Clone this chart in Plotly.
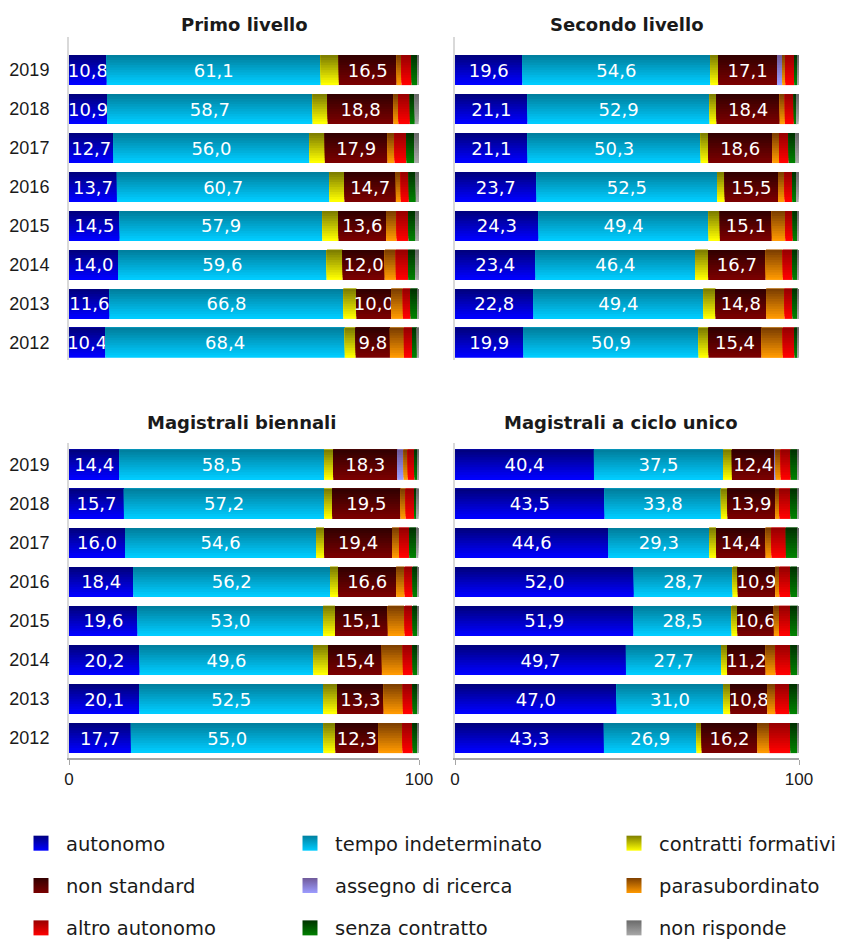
import plotly.graph_objects as go

years = ["2019", "2018", "2017", "2016", "2015", "2014", "2013", "2012"]
series_names = ["autonomo", "tempo indeterminato", "contratti formativi", "non standard",
                "assegno di ricerca", "parasubordinato", "altro autonomo",
                "senza contratto", "non risponde"]
panel_titles = ["Primo livello", "Secondo livello", "Magistrali biennali",
                "Magistrali a ciclo unico"]
x_ticks = [0, 100]

# Primo livello
primo_autonomo = [10.8, 10.9, 12.7, 13.7, 14.5, 14.0, 11.6, 10.4]
primo_tempo = [61.1, 58.7, 56.0, 60.7, 57.9, 59.6, 66.8, 68.4]
primo_formativi = [5.2, 4.3, 4.4, 4.3, 4.6, 4.6, 3.7, 3.1]
primo_nonstd = [16.5, 18.8, 17.9, 14.7, 13.6, 12.0, 10.0, 9.8]
primo_assegno = [0, 0, 0, 0, 0, 0, 0, 0]
primo_parasub = [1.4, 1.4, 2.0, 1.4, 3.0, 3.2, 3.3, 4.0]
primo_altro = [2.9, 3.3, 3.4, 2.3, 3.4, 3.5, 2.2, 2.3]
primo_senza = [1.6, 1.4, 2.3, 2.0, 2.0, 2.0, 2.0, 1.4]
primo_nr = [0.5, 1.1, 1.3, 0.9, 1.0, 1.1, 0.4, 0.6]

# Secondo livello
secondo_autonomo = [19.6, 21.1, 21.1, 23.7, 24.3, 23.4, 22.8, 19.9]
secondo_tempo = [54.6, 52.9, 50.3, 52.5, 49.4, 46.4, 49.4, 50.9]
secondo_formativi = [2.3, 2.0, 2.2, 2.2, 3.3, 3.8, 3.5, 2.9]
secondo_nonstd = [17.1, 18.4, 18.6, 15.5, 15.1, 16.7, 14.8, 15.4]
secondo_assegno = [1.5, 0, 0, 0, 0, 0, 0, 0]
secondo_parasub = [0.9, 1.5, 2.0, 1.9, 3.9, 5.0, 5.3, 6.2]
secondo_altro = [2.6, 2.6, 2.8, 2.2, 2.2, 2.8, 2.3, 3.4]
secondo_senza = [0.9, 0.9, 2.0, 1.4, 1.3, 1.5, 1.5, 0.9]
secondo_nr = [0.5, 0.5, 1.0, 0.5, 0.4, 0.4, 0.4, 0.4]

# Magistrali biennali
biennali_autonomo = [14.4, 15.7, 16.0, 18.4, 19.6, 20.2, 20.1, 17.7]
biennali_tempo = [58.5, 57.2, 54.6, 56.2, 53.0, 49.6, 52.5, 55.0]
biennali_formativi = [2.6, 2.3, 2.3, 2.3, 3.4, 4.2, 4.0, 3.4]
biennali_nonstd = [18.3, 19.5, 19.4, 16.6, 15.1, 15.4, 13.3, 12.3]
biennali_assegno = [1.8, 0, 0, 0, 0, 0, 0, 0]
biennali_parasub = [1.2, 1.5, 2.0, 2.4, 4.8, 6.0, 5.5, 6.9]
biennali_altro = [1.9, 2.4, 2.9, 2.3, 2.3, 2.8, 2.8, 2.9]
biennali_senza = [0.8, 0.8, 2.0, 1.4, 1.4, 1.4, 1.4, 1.4]
biennali_nr = [0.5, 0.5, 0.6, 0.4, 0.4, 0.4, 0.4, 0.4]

# Magistrali a ciclo unico
ciclo_autonomo = [40.4, 43.5, 44.6, 52.0, 51.9, 49.7, 47.0, 43.3]
ciclo_tempo = [37.5, 33.8, 29.3, 28.7, 28.5, 27.7, 31.0, 26.9]
ciclo_formativi = [2.6, 1.9, 2.0, 1.5, 1.7, 1.7, 2.0, 1.5]
ciclo_nonstd = [12.4, 13.9, 14.4, 10.9, 10.6, 11.2, 10.8, 16.2]
ciclo_assegno = [0.3, 0, 0, 0, 0, 0, 0, 0]
ciclo_parasub = [1.5, 1.2, 1.7, 1.2, 1.5, 2.9, 2.3, 3.5]
ciclo_altro = [2.9, 3.2, 4.2, 3.2, 3.2, 4.4, 4.1, 6.1]
ciclo_senza = [2.0, 2.0, 3.4, 2.0, 2.3, 2.0, 2.3, 2.0]
ciclo_nr = [0.4, 0.5, 0.4, 0.4, 0.3, 0.4, 0.4, 0.4]

panels = [
    [primo_autonomo, primo_tempo, primo_formativi, primo_nonstd, primo_assegno,
     primo_parasub, primo_altro, primo_senza, primo_nr],
    [secondo_autonomo, secondo_tempo, secondo_formativi, secondo_nonstd, secondo_assegno,
     secondo_parasub, secondo_altro, secondo_senza, secondo_nr],
    [biennali_autonomo, biennali_tempo, biennali_formativi, biennali_nonstd, biennali_assegno,
     biennali_parasub, biennali_altro, biennali_senza, biennali_nr],
    [ciclo_autonomo, ciclo_tempo, ciclo_formativi, ciclo_nonstd, ciclo_assegno,
     ciclo_parasub, ciclo_altro, ciclo_senza, ciclo_nr],
]

# gradient colours (top, bottom) per series
grad = [
    ("#000080", "#0000FF"),
    ("#00809F", "#00CCFF"),
    ("#7F7F00", "#FFFF00"),
    ("#330000", "#7A0000"),
    ("#705A9A", "#9C9CFF"),
    ("#7F4000", "#FF9900"),
    ("#990000", "#FF0000"),
    ("#003300", "#008000"),
    ("#6A6A6A", "#A8A8A8"),
]
legend_of = ["legend", "legend2", "legend3", "legend",
             "legend2", "legend3", "legend", "legend2", "legend3"]
labelled = [0, 1, 3]


def hex2rgb(h):
    h = h.lstrip("#")
    return tuple(int(h[i:i + 2], 16) for i in (0, 2, 4))


def lerp(c1, c2, t):
    a, b = hex2rgb(c1), hex2rgb(c2)
    return "rgb(%d,%d,%d)" % tuple(round(a[k] + (b[k] - a[k]) * t) for k in range(3))


def fmt(v):
    return ("%.1f" % v).replace(".", ",")


W = 0.77
N = 12
fig = go.Figure()

for p, data in enumerate(panels):
    suffix = "" if p == 0 else str(p + 1)
    xa, ya = "x" + suffix, "y" + suffix
    cum = [0.0] * len(years)
    for s, vals in enumerate(data):
        top, bot = grad[s]
        for i in range(N):
            t = i / (N - 1)  # 0 = bottom, 1 = top
            # each layer covers from its own start up to the top of the bar,
            # so upper (darker) layers overlay lower ones without seams
            fig.add_trace(go.Bar(
                y=years, x=vals, base=list(cum), orientation="h",
                width=W - i * W / N, offset=-W / 2 + i * W / N,
                marker=dict(color=lerp(bot, top, t), line=dict(width=0)),
                name=series_names[s], legendgroup=series_names[s],
                showlegend=False, hoverinfo="skip",
                xaxis=xa, yaxis=ya,
            ))
        if s in labelled:
            fig.add_trace(go.Bar(
                y=years, x=vals, base=list(cum), orientation="h",
                width=W, offset=-W / 2,
                marker=dict(color="rgba(0,0,0,0)", line=dict(width=0)),
                text=[fmt(v) for v in vals], textposition="inside",
                insidetextanchor="middle", textangle=0, constraintext="none",
                textfont=dict(family="DejaVu Sans", size=18, color="white"),
                showlegend=False, hoverinfo="skip", xaxis=xa, yaxis=ya,
            ))
        cum = [c + v for c, v in zip(cum, vals)]

# legend entries (gradient squares like the reference key: dark top, bright bottom)
for s, name in enumerate(series_names):
    top, bot = grad[s]
    fig.add_trace(go.Scatter(
        x=[None], y=[None], mode="markers", name=name, legendgroup=name,
        legend=legend_of[s], showlegend=True, hoverinfo="skip",
        marker=dict(symbol="square", size=15, color=top,
                    gradient=dict(type="vertical", color=bot),
                    line=dict(width=0)),
    ))

# The page adds an 8px body margin, so the figure is laid out 8px smaller
# and every pixel target below is given in page pixels minus 8.
OFF = 8
Wd, H = 845 - OFF, 941 - OFF


def px(x):
    return (x - OFF) / Wd


def py(y):
    return 1 - (y - OFF) / H


xdom = [[px(69), px(419)], [px(455), px(799)]]
ydom_top = [py(360), py(37)]
ydom_bot = [py(758), py(443)]

layout = dict(
    width=Wd, height=H, margin=dict(l=0, r=0, t=0, b=0, autoexpand=False),
    paper_bgcolor="white", plot_bgcolor="white", barmode="overlay",
    showlegend=True,
)
for p in range(4):
    suffix = "" if p == 0 else str(p + 1)
    bottom = p >= 2
    xd = xdom[p % 2]
    yd = ydom_bot if bottom else ydom_top
    layout["xaxis" + suffix] = dict(
        domain=xd, range=[0, 100], anchor="y" + suffix,
        showgrid=False, zeroline=False,
        showline=bottom, linecolor="#a6a6a6", linewidth=2,
        ticks="outside" if bottom else "", ticklen=5, tickcolor="#a6a6a6", tickwidth=1,
        tickvals=x_ticks, showticklabels=bottom,
        tickfont=dict(family="Liberation Sans", size=17, color="#1a1a1a"),
    )
    layout["yaxis" + suffix] = dict(
        domain=yd, anchor="x" + suffix, type="category",
        categoryorder="array", categoryarray=years[::-1],
        range=[-0.51, 7.56] if bottom else [-0.44, 7.85],
        showgrid=False, zeroline=False, showline=True,
        linecolor="#d9d9d9", linewidth=2, ticks="",
        showticklabels=(p % 2 == 0), ticklabelstandoff=14,
        tickfont=dict(family="Liberation Sans", size=18, color="#1a1a1a"),
    )

legend_common = dict(
    xanchor="left", yanchor="top", orientation="v", itemwidth=40,
    font=dict(family="DejaVu Sans", size=19.5, color="#1a1a1a"),
    tracegroupgap=14, bgcolor="rgba(0,0,0,0)", traceorder="grouped",
)
layout["legend"] = dict(x=px(16), y=py(824), **legend_common)
layout["legend2"] = dict(x=px(285), y=py(824), **legend_common)
layout["legend3"] = dict(x=px(609), y=py(824), **legend_common)

title_pos = [(244, 25), (627, 25), (242, 422), (621, 422)]
annotations = []
for t, (cx, cy) in zip(panel_titles, title_pos):
    annotations.append(dict(
        text="<b>%s</b>" % t, x=px(cx), y=py(cy), xref="paper", yref="paper",
        showarrow=False, xanchor="center", yanchor="middle",
        font=dict(family="DejaVu Sans", size=18, color="#1a1a1a"),
    ))
layout["annotations"] = annotations

fig.update_layout(**layout)
fig.write_html("out.html")
